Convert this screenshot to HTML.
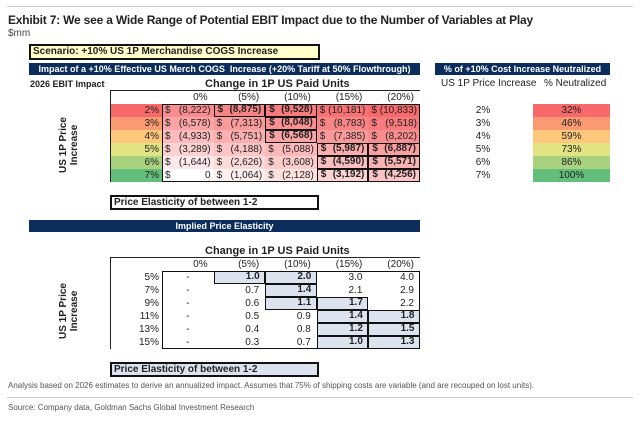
<!DOCTYPE html>
<html><head><meta charset="utf-8"><style>
body{margin:0;width:640px;height:423px;background:#fff;font-family:"Liberation Sans",Arial,sans-serif;position:relative;overflow:hidden;color:#222}
.a{position:absolute;white-space:nowrap}
.navy{background:#0b2d5c;color:#fff;font-weight:bold;font-size:9px;text-align:center;line-height:12px}
.c{position:absolute;font-size:10px;line-height:13px;box-sizing:border-box}
</style></head><body>
<div class="a" style="left:7px;top:6px;width:626px;height:1px;background:#ccc"></div>
<div class="a" style="left:8px;top:13px;font-size:12px;font-weight:bold;color:#222;letter-spacing:-0.2px">Exhibit 7: We see a Wide Range of Potential EBIT Impact due to the Number of Variables at Play</div>
<div class="a" style="left:8px;top:28px;font-size:10px;color:#444">$mm</div>
<div class="a" style="left:29px;top:44px;width:285px;height:12px;background:#ffffcc;border:2px solid #111;font-size:10px;font-weight:bold;line-height:12px;padding-left:2px">Scenario: +10% US 1P Merchandise COGS Increase</div>
<div class="a navy" style="left:29px;top:63px;width:391px">Impact of a +10% Effective US Merch COGS&nbsp; Increase (+20% Tariff at 50% Flowthrough)</div>
<div class="a navy" style="left:435px;top:63px;width:175px">% of +10% Cost Increase Neutralized</div>
<div class="a" style="left:30px;top:79px;font-size:9px;font-weight:bold">2026 EBIT Impact</div>
<div class="a" style="left:205px;top:78px;font-size:11px;font-weight:bold">Change in 1P US Paid Units</div>
<div class="a" style="left:29px;top:134px;width:80px;text-align:center;transform:rotate(-90deg);font-size:10px;font-weight:bold;line-height:11px">US 1P Price<br>Increase</div>
<div class="a" style="left:441px;top:78px;font-size:10px">US 1P Price Increase</div>
<div class="a" style="left:544px;top:78px;font-size:10px">% Neutralized</div>
<div class="a" style="left:110px;top:195px;width:203px;height:11px;border:2px solid #111;font-size:10px;font-weight:bold;line-height:11px;padding-left:2px">Price Elasticity of between 1-2</div>
<div class="a navy" style="left:29px;top:220px;width:391px">Implied Price Elasticity</div>
<div class="a" style="left:205px;top:245px;font-size:11px;font-weight:bold">Change in 1P US Paid Units</div>
<div class="a" style="left:29px;top:300px;width:80px;text-align:center;transform:rotate(-90deg);font-size:10px;font-weight:bold;line-height:11px">US 1P Price<br>Increase</div>
<div class="a" style="left:110px;top:362px;width:203px;height:11px;border:2px solid #111;background:#dde3ee;font-size:10px;font-weight:bold;line-height:11px;padding-left:2px">Price Elasticity of between 1-2</div>
<div class="a" style="left:8px;top:381px;font-size:8px;color:#555">Analysis based on 2026 estimates to derive an annualized impact. Assumes that 75% of shipping costs are variable (and are recouped on lost units).</div>
<div class="a" style="left:7px;top:397px;width:626px;height:1px;background:#ccc"></div>
<div class="a" style="left:8px;top:403px;font-size:8px;color:#555">Source: Company data, Goldman Sachs Global Investment Research</div>
<div id="root"></div>
<script>
const unitCols=["0%","(5%)","(10%)","(15%)","(20%)"];
const priceRows=["2%","3%","4%","5%","6%","7%"];
const ebitValues=[[-8222,-8875,-9528,-10181,-10833],[-6578,-7313,-8048,-8783,-9518],[-4933,-5751,-6568,-7385,-8202],[-3289,-4188,-5088,-5987,-6887],[-1644,-2626,-3608,-4590,-5571],[0,-1064,-2128,-3192,-4256]];
const ebitBold=[[0,1,1,0,0],[0,0,1,0,0],[0,0,1,0,0],[0,0,0,1,1],[0,0,0,1,1],[0,0,0,1,1]];
const neutralized=[32,46,59,73,86,100];
const elastRows=["5%","7%","9%","11%","13%","15%"];
const elastValues=[[null,1.0,2.0,3.0,4.0],[null,0.7,1.4,2.1,2.9],[null,0.6,1.1,1.7,2.2],[null,0.5,0.9,1.4,1.8],[null,0.4,0.8,1.2,1.5],[null,0.3,0.7,1.0,1.3]];
const elastBold=[[0,1,1,0,0],[0,0,1,0,0],[0,0,1,1,0],[0,0,0,1,1],[0,0,0,1,1],[0,0,0,1,1]];
const rowColors=["#f8696b","#fa9a73","#fdc87c","#e2e383","#a9d27f","#63be7b"];
const root=document.getElementById('root');
function mk(name,l,t,w,h,txt,st){const d=document.createElement('div');d.className='c';


d.style.left=l+'px';d.style.top=t+'px';d.style.width=w+'px';d.style.height=h+'px';if(txt!=null)d.textContent=txt;if(st)d.style.cssText+=st;root.appendChild(d);return d;}
const X0=162,CW=51.6,RH=13;
function colX(j){return X0+j*CW;}
function fmt(v){if(v===0)return'0';return'('+Math.abs(v).toLocaleString('en-US')+')';}
const minV=Math.min(...ebitValues.flat());
function pink(v){const t=v/minV;const r=Math.round(255-(255-248)*t),g=Math.round(255-(255-105)*t),b=Math.round(255-(255-107)*t);return`rgb(${r},${g},${b})`;}
let T1=91;
mk('table1-top-border',110,T1-1,310,1,null,'background:#222');
unitCols.forEach((c,j)=>mk('col-header-'+j,colX(j),T1,CW,RH,c,'text-align:right;padding-right:6px'));
mk('table1-left-border',110,T1,1,RH*7,null,'background:#222');
priceRows.forEach((p,i)=>{const y=T1+RH*(i+1);
mk('row-label-'+p,111,y,51,RH,p,'text-align:right;padding-right:3px;background:'+rowColors[i]);
ebitValues[i].forEach((v,j)=>{const b=ebitBold[i][j];
const d=mk('ebit-cell-'+i+'-'+j,colX(j),y,CW,RH,null,'background:'+pink(v)+';'+(b?'border:1.5px solid #111;font-weight:bold;line-height:10px;':''));
d.innerHTML='<span style="position:absolute;left:3px">$</span><span style="position:absolute;right:3px">'+fmt(v)+'</span>';});
mk('neutral-price-'+p,455,y,56,RH,p,'text-align:center');
mk('neutral-cell-'+i,533,y,77,RH,neutralized[i]+'%','text-align:center;background:'+rowColors[i]);});
mk('table1-frame',162,T1+RH,258,RH*6,null,'border:1.5px solid #111');
const T2=258;
mk('table2-top-border',110,T2-1,310,1,null,'background:#222');
unitCols.forEach((c,j)=>mk('col2-header-'+j,colX(j),T2,CW,RH,c,'text-align:right;padding-right:6px'));
mk('table2-left-border',110,T2,1,RH*7,null,'background:#222');
elastRows.forEach((p,i)=>{const y=T2+RH*(i+1);
mk('row2-label-'+p,111,y,51,RH,p,'text-align:right;padding-right:3px');
elastValues[i].forEach((v,j)=>{const b=elastBold[i][j];
mk('elast-cell-'+i+'-'+j,colX(j),y,CW,RH,v==null?'-':v.toFixed(1),(v==null?'text-align:center;':'text-align:right;padding-right:6px;')+(b?'background:#dde3ee;border:1.5px solid #111;font-weight:bold;line-height:10px;padding-right:4.5px;':''));});});
mk('table2-frame',162,T2+RH,258,RH*6,null,'border:1.5px solid #111');
</script>
</body></html>
